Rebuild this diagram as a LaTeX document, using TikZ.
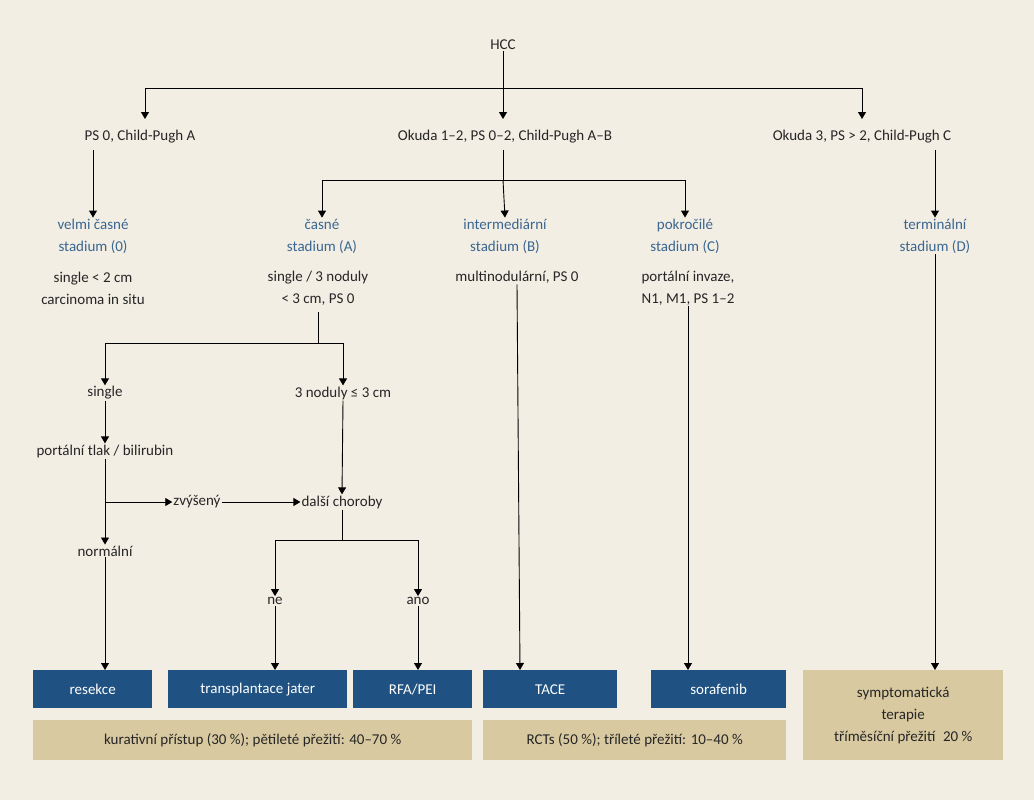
\documentclass[tikz,border=0pt]{standalone}
\usepackage{fontspec}
\setmainfont{Carlito}
\usetikzlibrary{arrows.meta}
\definecolor{bg}{HTML}{F3EEE4}
\definecolor{bluebox}{HTML}{1F5282}
\definecolor{tan}{HTML}{D8C9A0}
\definecolor{stage}{HTML}{3A6690}
\begin{document}
\begin{tikzpicture}[x=1pt,y=-1pt,
  every node/.style={font=\fontsize{15}{22}\selectfont, inner sep=1pt},
  lab/.style={align=center, text=black!85},
  stg/.style={align=center, text=stage},
  bb/.style={fill=bluebox, text=white, anchor=north west, minimum height=38pt, inner sep=0pt},
  tb/.style={fill=tan, text=black!85, anchor=north west, inner sep=0pt, align=center},
  ln/.style={line width=0.9pt, black},
  ar/.style={ln, -{Triangle[length=7pt,width=8pt]}}]
\fill[bg] (0,0) rectangle (1034,800);
\useasboundingbox (0,0) rectangle (1034,800);
% texts
\node[lab] (hcc) at (503,45) {HCC};
\node[lab] (r1a) at (140,137) {PS 0, Child-Pugh A};
\node[lab] (r1b) at (505,137) {Okuda 1–2, PS 0–2, Child-Pugh A–B};
\node[lab] (r1c) at (862,137) {Okuda 3, PS > 2, Child-Pugh C};
\node[stg] (s0) at (93,236) {velmi časné\\stadium (0)};
\node[lab] (d0) at (93,288) {single < 2 cm\\carcinoma in situ};
\node[stg] (sA) at (322,236) {časné\\stadium (A)};
\node[lab] (dA) at (318,288) {single / 3 noduly\\< 3 cm, PS 0};
\node[stg] (sB) at (505,236) {intermediární\\stadium (B)};
\node[lab] (dB) at (517,277) {multinodulární, PS 0};
\node[stg] (sC) at (685,236) {pokročilé\\stadium (C)};
\node[lab] (dC) at (688,288) {portální invaze,\\N1, M1, PS 1–2};
\node[stg] (sD) at (935,236) {terminální\\stadium (D)};
\node[lab] (single) at (105,393) {single};
\node[lab] (three) at (343,393) {3 noduly ≤ 3 cm};
\node[lab] (ptl) at (105,451) {portální tlak / bilirubin};
\node[lab] (zv) at (197,502) {zvýšený};
\node[lab] (dch) at (342,502) {další choroby};
\node[lab] (norm) at (105,551) {normální};
\node[lab] (ne) at (275,601) {ne};
\node[lab] (ano) at (418,601) {ano};
% boxes
\node[bb, minimum width=119pt] (res) at (33,670) {resekce};
\node[bb, minimum width=179pt] (tra) at (168,670) {transplantace jater};
\node[bb, minimum width=119pt] (rfa) at (353,670) {RFA/PEI};
\node[bb, minimum width=134pt] (tace) at (483,670) {TACE};
\node[bb, minimum width=135pt] (sor) at (651,670) {sorafenib};
\node[tb, minimum width=439pt, minimum height=40pt] (t1) at (33,720) {kurativní přístup (30 \%); pětileté přežití: 40–70 \%};
\node[tb, minimum width=303pt, minimum height=40pt] (t2) at (483,720) {RCTs (50 \%); tříleté přežití: 10–40 \%};
\node[tb, minimum width=200pt, minimum height=90pt] (t3) at (803,670) {symptomatická\\terapie\\tříměsíční přežití\enspace 20 \%};
% coordinates
\coordinate (h0) at (503,88);
\draw[ln] (hcc.south) -- (h0);
\draw[ar] (145,88) -- (145,119);
\draw[ln] (145,88) -- (862,88);
\draw[ar] (h0) -- (503,119);
\draw[ar] (862,88) -- (862,119);
\draw[ar] (93,150) -- (s0.north);
\draw[ln] (503,150) -- (503,180);
\draw[ln] (322,180) -- (685,180);
\draw[ar] (322,180) -- (sA.north);
\draw[ar] (503,180) -- (sB.north);
\draw[ar] (685,180) -- (sC.north);
\draw[ar] (935,150) -- (sD.north);
\draw[ln] (dA.south) ++(0,0) coordinate (dAs);
\draw[ln] (318,312) -- (318,343);
\draw[ln] (105,343) -- (343,343);
\draw[ar] (105,343) -- (single.north);
\draw[ar] (343,343) -- (three.north);
\draw[ar] (single.south) -- (ptl.north);
\draw[ar] (ptl.south) -- (norm.north);
\draw[ar] (105,502) -- (zv.west);
\draw[ar] (zv.east) -- (dch.west);
\draw[ar] (three.south) -- (dch.north);
\draw[ln] (dch.south) -- (342,540);
\draw[ln] (275,540) -- (418,540);
\draw[ar] (275,540) -- (ne.north);
\draw[ar] (418,540) -- (ano.north);
\draw[ar] (norm.south) -- (105,670);
\draw[ar] (ne.south) -- (275,670);
\draw[ar] (ano.south) -- (418,670);
\draw[ar] (dB.south) -- (520,670);
\draw[ar] (dC.south) -- (688,670);
\draw[ar] (sD.south) -- (935,670);
\end{tikzpicture}
\end{document}
